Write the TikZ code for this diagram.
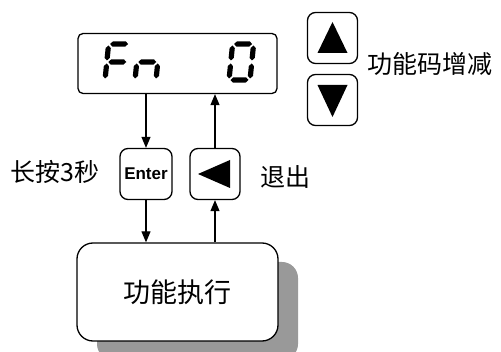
\documentclass[tikz,border=0pt]{standalone}
\usepackage{fontspec}
\newfontfamily\cjk{Noto Sans CJK SC}
\newfontfamily\arial{Liberation Sans}
\usetikzlibrary{arrows.meta,shadows}

% seven-segment pieces, local coordinates of one digit
\newcommand{\hseg}[3]{\fill (#1+1.5,#3) -- (#1+4.1,#3-2.6) -- (#2-4.1,#3-2.6) -- (#2-1.5,#3) -- (#2-4.1,#3+2.6) -- (#1+4.1,#3+2.6) -- cycle;}
\newcommand{\vseg}[3]{\fill (#1,#2+1.5) -- (#1+2.6,#2+4.1) -- (#1+2.6,#3-4.1) -- (#1,#3-1.5) -- (#1-2.6,#3-4.1) -- (#1-2.6,#2+4.1) -- cycle;}

\tikzset{
  key/.style={draw,line width=1.3pt,rounded corners=8pt,minimum width=50pt,minimum height=51pt,inner sep=0pt},
  lbl/.style={font=\cjk\fontsize{25}{30}\selectfont,inner sep=0pt},
  flow/.style={-{Triangle[length=11pt,width=9pt]},line width=1.2pt},
}

\begin{document}
\begin{tikzpicture}[x=1pt,y=-1pt,line join=round]
  \useasboundingbox (0,0) rectangle (501,352);

  % display
  \node[draw,line width=1.3pt,rounded corners=5pt,minimum width=199pt,minimum height=60pt] (disp) at (177.5,63.5) {};
  \begin{scope}[shift={(105,80)},xslant=0.1]
    \hseg{0}{21}{-36} \vseg{0}{-36}{-18} \vseg{0}{-18}{0} \hseg{0}{21}{-18}
  \end{scope}
  \begin{scope}[shift={(135,80)},xslant=0.1]
    \hseg{0}{21}{-18} \vseg{0}{-18}{0} \vseg{21}{-18}{0}
  \end{scope}
  \begin{scope}[shift={(229,80)},xslant=0.1]
    \hseg{0}{21}{-36} \vseg{0}{-36}{-18} \vseg{0}{-18}{0} \hseg{0}{21}{0}
    \vseg{21}{-36}{-18} \vseg{21}{-18}{0}
  \end{scope}

  % up / down keys
  \node[key] (up) at (332.5,38) {};
  \node[key] (down) at (332.5,100) {};
  \fill (up.center) ++(0,-16) -- ++(15,31) -- ++(-30,0) -- cycle;
  \fill (down.center) ++(0,17) -- ++(15,-32) -- ++(-30,0) -- cycle;
  \node[lbl,anchor=west] (updown) at (367,64) {功能码增减};

  % enter / back keys
  \node[key,minimum width=52pt] (enter) at (146,174) {\arial\bfseries\fontsize{17}{18}\selectfont Enter};
  \node[key] (back) at (215,174) {};
  \fill (back.center) ++(-17,0) -- ++(32,-14) -- ++(0,28) -- cycle;
  \node[lbl,anchor=east] (hold) at (100,172) {长按3秒};
  \node[lbl,anchor=west] (quit) at (260,177) {退出};

  % function box
  \node[draw,fill=white,line width=1.3pt,rounded corners=16pt,minimum width=201pt,minimum height=98pt,
        font=\cjk\fontsize{27}{32}\selectfont,
        drop shadow={shadow xshift=20pt,shadow yshift=-19pt,fill=black!40,opacity=1}] (func) at (177.5,292) {功能执行};

  % connectors
  \draw[flow] (enter |- disp.south) -- (enter.north);
  \draw[flow] (enter.south) -- (enter |- func.north);
  \draw[flow] (back |- func.north) -- (back.south);
  \draw[flow] (back.north) -- (back |- disp.south);
\end{tikzpicture}
\end{document}
